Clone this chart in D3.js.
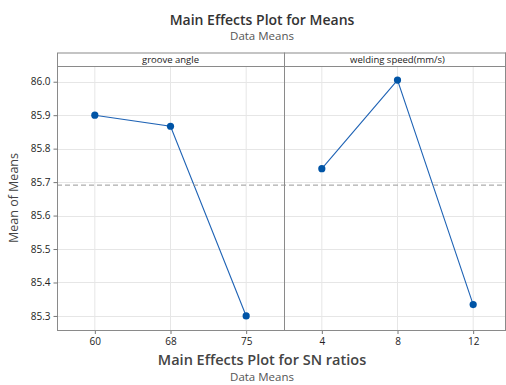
<!DOCTYPE html>
<html>
<head>
<meta charset="utf-8">
<script src="https://cdn.jsdelivr.net/npm/d3@7"></script>
<style>
  body { margin: 0; background: #fff; }
  svg { display: block; font-family: "Open Sans", "Noto Sans", sans-serif; }
</style>
</head>
<body>
<div id="chart"></div>
<script>
// factor levels and the mean response at each level
var factors = ["groove angle", "welding speed(mm/s)"];
var grooveLevels = ["60", "68", "75"];
var grooveMeans = [85.90, 85.867, 85.30];
var speedLevels = ["4", "8", "12"];
var speedMeans = [85.74, 86.005, 85.334];
var yTicks = [85.3, 85.4, 85.5, 85.6, 85.7, 85.8, 85.9, 86.0];

var width = 506, height = 385;
var left = 57, stripTop = 52.5, stripH = 13.5, bottom = 330;
var panelW = 227;
var plotTop = stripTop + stripH;

var svg = d3.select("#chart").append("svg")
  .attr("width", width)
  .attr("height", height);

var y = d3.scaleLinear()
  .domain([85.258, 86.047])
  .range([bottom, plotTop]);

var allMeans = grooveMeans.concat(speedMeans);
var grand = d3.mean(allMeans);

var panels = [
  {name: factors[0], levels: grooveLevels, means: grooveMeans},
  {name: factors[1], levels: speedLevels, means: speedMeans}
];

// horizontal grid
svg.append("g")
  .selectAll("line")
  .data(yTicks)
  .enter().append("line")
    .attr("x1", left).attr("x2", width)
    .attr("y1", function(d){ return Math.round(y(d)) + 0.5 }).attr("y2", function(d){ return Math.round(y(d)) + 0.5 })
    .attr("stroke", "#e6e6e6").attr("stroke-width", 1);

panels.forEach(function(p, i) {
  var x0 = left + i * panelW;
  var x = d3.scalePoint()
    .domain(p.levels)
    .range([x0, x0 + panelW])
    .padding(0.5);

  var g = svg.append("g");

  // vertical grid
  g.selectAll(".vg")
    .data(p.levels)
    .enter().append("line")
      .attr("x1", function(d){ return x(d) }).attr("x2", function(d){ return x(d) })
      .attr("y1", plotTop).attr("y2", bottom)
      .attr("stroke", "#e6e6e6");

  // bottom axis
  var ax = g.append("g")
    .attr("transform", "translate(0," + bottom + ")")
    .call(d3.axisBottom(x).tickSize(4).tickPadding(4));
  ax.select(".domain").remove();
  ax.selectAll(".tick line").attr("stroke", "#777");
  ax.selectAll("text").attr("fill", "#222").style("font-size", "10px")
    .style("font-family", "\"Open Sans\", \"Noto Sans\", sans-serif");

  p.x = x;
  p.g = g;
});

// grand mean reference line
svg.append("line")
  .attr("x1", left).attr("x2", width)
  .attr("y1", y(grand)).attr("y2", y(grand))
  .attr("stroke", "#999")
  .attr("stroke-dasharray", "5,3");

var line = d3.line()
  .x(function(d){ return d[0] })
  .y(function(d){ return y(d[1]) });

panels.forEach(function(p) {
  var pts = p.levels.map(function(l, j){ return [p.x(l), p.means[j]] });
  p.g.append("path")
    .attr("d", line(pts))
    .attr("fill", "none")
    .attr("stroke", "#1f63b5")
    .attr("stroke-width", 1.1);
  p.g.selectAll("circle")
    .data(pts)
    .enter().append("circle")
      .attr("cx", function(d){ return d[0] })
      .attr("cy", function(d){ return y(d[1]) })
      .attr("r", 3.6)
      .attr("fill", "#0054a6");
});

// frame, strips and panel divider
var frame = svg.append("g").attr("fill", "none").attr("stroke", "#8a8a8a");
frame.append("rect")
  .attr("x", left + 0.5).attr("y", stripTop + 0.5)
  .attr("width", 2 * panelW).attr("height", bottom - stripTop);
frame.append("line")
  .attr("x1", left).attr("x2", width)
  .attr("y1", plotTop + 0.5).attr("y2", plotTop + 0.5);
frame.append("line")
  .attr("x1", left + panelW + 0.5).attr("x2", left + panelW + 0.5)
  .attr("y1", stripTop).attr("y2", bottom);
frame.append("line")
  .attr("x1", width - 0.5).attr("x2", width - 0.5)
  .attr("y1", stripTop).attr("y2", bottom);

panels.forEach(function(p, i) {
  svg.append("text")
    .attr("x", left + i * panelW + panelW / 2)
    .attr("y", stripTop + 10.5)
    .attr("text-anchor", "middle")
    .style("font-size", "9.5px")
    .attr("fill", "#222")
    .text(p.name);
});

// left axis
var yAx = svg.append("g")
  .attr("transform", "translate(" + (left + 0.5) + ",0)")
  .call(d3.axisLeft(y).tickValues(yTicks).tickFormat(d3.format(".1f")).tickSize(4).tickPadding(3));
yAx.select(".domain").remove();
yAx.selectAll(".tick line").attr("stroke", "#777");
yAx.selectAll("text").attr("fill", "#222").style("font-size", "10px")
  .style("font-family", "\"Open Sans\", \"Noto Sans\", sans-serif");

svg.append("text")
  .attr("transform", "translate(18," + ((plotTop + bottom) / 2) + ") rotate(-90)")
  .attr("text-anchor", "middle")
  .style("font-size", "12.5px")
  .style("font-weight", 500)
  .attr("fill", "#444")
  .text("Mean of Means");

// titles
function title(txt, yy, size, weight, col) {
  svg.append("text")
    .attr("x", 262).attr("y", yy)
    .attr("text-anchor", "middle")
    .style("font-size", size)
    .style("font-weight", weight)
    .attr("fill", col)
    .text(txt);
}
title("Main Effects Plot for Means", 25, "14px", 600, "#333");
title("Data Means", 40, "11.5px", 400, "#555");
title("Main Effects Plot for SN ratios", 365, "14.5px", 600, "#444");
title("Data Means", 381, "11.5px", 400, "#555");
</script>
</body>
</html>
